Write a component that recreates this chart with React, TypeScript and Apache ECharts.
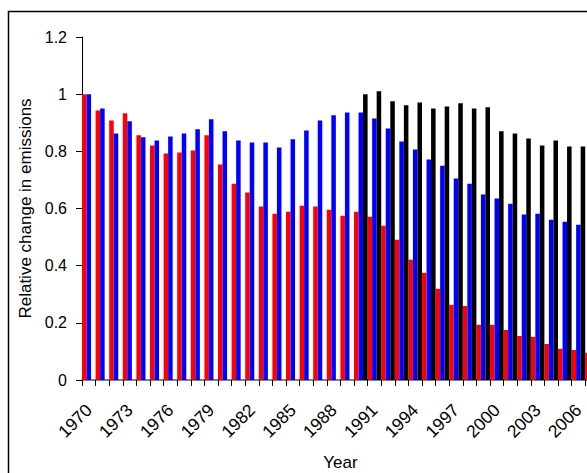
import React, { useEffect, useRef } from "react";
import * as echarts from "echarts";

const years: string[] = [];
for (let y = 1970; y <= 2007; y++) years.push(String(y));

const redValues = [
  1.0, 0.943, 0.908, 0.933, 0.856, 0.82, 0.792, 0.796, 0.803, 0.856,
  0.754, 0.687, 0.656, 0.607, 0.582, 0.589, 0.61, 0.607, 0.596, 0.575,
  0.589, 0.571, 0.54, 0.491, 0.421, 0.375, 0.319, 0.263, 0.259, 0.193,
  0.193, 0.175, 0.154, 0.151, 0.126, 0.109, 0.105, 0.095,
];

const blueValues = [
  1.0, 0.95, 0.862, 0.905, 0.849, 0.838, 0.852, 0.862, 0.877, 0.912,
  0.87, 0.838, 0.831, 0.831, 0.813, 0.842, 0.873, 0.908, 0.926, 0.936,
  0.936, 0.915, 0.88, 0.834, 0.806, 0.771, 0.75, 0.705, 0.687, 0.649,
  0.635, 0.617, 0.579, 0.582, 0.561, 0.554, 0.543, 0.54,
];

const blackValues: (number | null)[] = [
  null, null, null, null, null, null, null, null, null, null,
  null, null, null, null, null, null, null, null, null, null,
  1.0, 1.01, 0.975, 0.961, 0.971, 0.95, 0.957, 0.968, 0.95, 0.954,
  0.87, 0.862, 0.845, 0.82, 0.838, 0.817, 0.817, 0.815,
];

const FONT = "'Liberation Sans', Arial, sans-serif";

export default function App() {
  const ref = useRef<HTMLDivElement>(null);
  useEffect(() => {
    if (!ref.current) return;
    const chart = echarts.init(ref.current, undefined, { renderer: "svg" });
    chart.setOption({
      animation: false,
      backgroundColor: "#ffffff",
      textStyle: { fontFamily: FONT },
      graphic: [
        {
          type: "rect",
          shape: { x: 8.5, y: 11.5, width: 700, height: 600 },
          style: { fill: "none", stroke: "#000", lineWidth: 1.5 },
          z: 100,
        },
      ],
      grid: { left: 82, top: 37, width: years.length * 13.6, height: 343 },
      xAxis: {
        type: "category",
        data: years,
        boundaryGap: true,
        name: "Year",
        nameLocation: "middle",
        nameGap: 74,
        nameTextStyle: { fontSize: 17, color: "#000", fontFamily: FONT },
        axisLine: { lineStyle: { color: "#808080", width: 2 } },
        axisTick: { show: true, interval: 0, length: 6, lineStyle: { color: "#000", width: 1 } },
        axisLabel: {
          interval: 2,
          rotate: 45,
          fontSize: 17.5,
          color: "#000",
          margin: 27,
          fontFamily: FONT,
        },
      },
      yAxis: {
        type: "value",
        min: 0,
        max: 1.2,
        interval: 0.2,
        name: "Relative change in emissions",
        nameLocation: "middle",
        nameGap: 42,
        nameTextStyle: { fontSize: 17, color: "#000", fontFamily: FONT },
        axisLine: { show: true, lineStyle: { color: "#000", width: 1 } },
        axisTick: { show: true, inside: false, length: 6, lineStyle: { color: "#000" } },
        splitLine: { show: false },
        axisLabel: {
          fontSize: 16,
          color: "#000",
          margin: 15,
          fontFamily: FONT,
          formatter: (v: number) => String(Math.round(v * 10) / 10),
        },
      },
      series: [
        {
          type: "bar",
          data: redValues,
          itemStyle: { color: "#ff0000" },
          barGap: "0%",
          barCategoryGap: "0%",
        },
        {
          type: "bar",
          data: blueValues,
          itemStyle: { color: "#0000ff" },
          barGap: "0%",
          barCategoryGap: "0%",
        },
        {
          type: "bar",
          data: blackValues,
          itemStyle: { color: "#000000" },
          barGap: "0%",
          barCategoryGap: "0%",
        },
      ],
    });
    return () => chart.dispose();
  }, []);
  return (
    <div
      style={{
        position: "fixed",
        left: 0,
        top: 0,
        width: 587,
        height: 473,
        overflow: "hidden",
        background: "#fff",
      }}
    >
      <div ref={ref} style={{ position: "absolute", left: 0, top: 0, width: 660, height: 520 }} />
    </div>
  );
}
